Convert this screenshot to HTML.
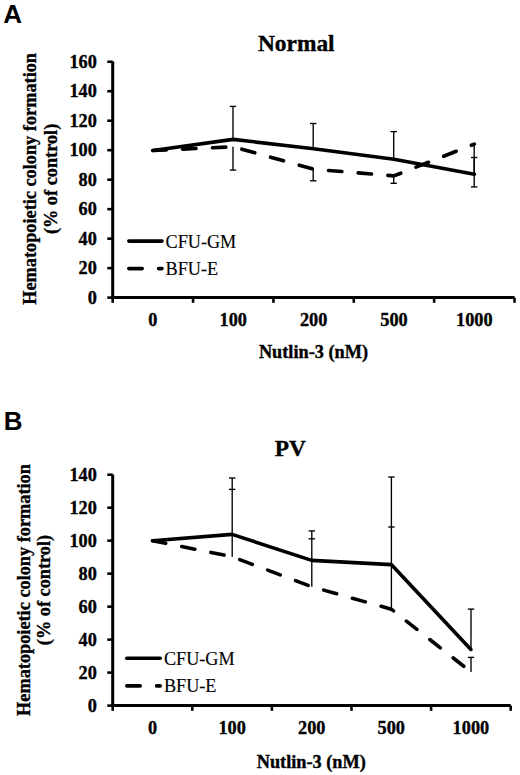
<!DOCTYPE html>
<html><head><meta charset="utf-8"><style>
html,body{margin:0;padding:0;background:#fff;}
svg{display:block;}
.tk{font-family:"Liberation Serif",serif;font-weight:bold;font-size:18.3px;fill:#000;stroke:#000;stroke-width:0.35px;}
.lg{font-family:"Liberation Serif",serif;font-size:18.2px;fill:#000;stroke:#000;stroke-width:0.15px;}
.ti{font-family:"Liberation Serif",serif;font-weight:bold;font-size:23.4px;fill:#000;stroke:#000;stroke-width:0.35px;}
.ax{font-family:"Liberation Serif",serif;font-weight:bold;font-size:18.3px;fill:#000;stroke:#000;stroke-width:0.35px;}
.pl{font-family:"Liberation Sans",sans-serif;font-weight:bold;font-size:26px;fill:#000;}
</style></head><body>
<svg width="520" height="775" viewBox="0 0 520 775">
<rect width="520" height="775" fill="#fff"/>
<path d="M112.70 61.55V297.60H514.50" fill="none" stroke="#000" stroke-width="3" stroke-linejoin="miter"/>
<line x1="107.30" y1="297.60" x2="112.70" y2="297.60" stroke="#000" stroke-width="2.6"/>
<text x="96.90" y="303.70" text-anchor="end" class="tk">0</text>
<line x1="107.30" y1="268.12" x2="112.70" y2="268.12" stroke="#000" stroke-width="2.6"/>
<text x="96.90" y="274.22" text-anchor="end" class="tk">20</text>
<line x1="107.30" y1="238.64" x2="112.70" y2="238.64" stroke="#000" stroke-width="2.6"/>
<text x="96.90" y="244.74" text-anchor="end" class="tk">40</text>
<line x1="107.30" y1="209.16" x2="112.70" y2="209.16" stroke="#000" stroke-width="2.6"/>
<text x="96.90" y="215.26" text-anchor="end" class="tk">60</text>
<line x1="107.30" y1="179.68" x2="112.70" y2="179.68" stroke="#000" stroke-width="2.6"/>
<text x="96.90" y="185.78" text-anchor="end" class="tk">80</text>
<line x1="107.30" y1="150.19" x2="112.70" y2="150.19" stroke="#000" stroke-width="2.6"/>
<text x="96.90" y="156.29" text-anchor="end" class="tk">100</text>
<line x1="107.30" y1="120.71" x2="112.70" y2="120.71" stroke="#000" stroke-width="2.6"/>
<text x="96.90" y="126.81" text-anchor="end" class="tk">120</text>
<line x1="107.30" y1="91.23" x2="112.70" y2="91.23" stroke="#000" stroke-width="2.6"/>
<text x="96.90" y="97.33" text-anchor="end" class="tk">140</text>
<line x1="107.30" y1="61.75" x2="112.70" y2="61.75" stroke="#000" stroke-width="2.6"/>
<text x="96.90" y="67.85" text-anchor="end" class="tk">160</text>
<line x1="112.70" y1="297.60" x2="112.70" y2="302.80" stroke="#000" stroke-width="2.6"/>
<line x1="193.06" y1="297.60" x2="193.06" y2="302.80" stroke="#000" stroke-width="2.6"/>
<line x1="273.42" y1="297.60" x2="273.42" y2="302.80" stroke="#000" stroke-width="2.6"/>
<line x1="353.78" y1="297.60" x2="353.78" y2="302.80" stroke="#000" stroke-width="2.6"/>
<line x1="434.14" y1="297.60" x2="434.14" y2="302.80" stroke="#000" stroke-width="2.6"/>
<line x1="514.50" y1="297.60" x2="514.50" y2="302.80" stroke="#000" stroke-width="2.6"/>
<text x="152.88" y="325.50" text-anchor="middle" class="tk">0</text>
<text x="233.24" y="325.50" text-anchor="middle" class="tk">100</text>
<text x="313.60" y="325.50" text-anchor="middle" class="tk">200</text>
<text x="393.96" y="325.50" text-anchor="middle" class="tk">500</text>
<text x="474.32" y="325.50" text-anchor="middle" class="tk">1000</text>
<line x1="233.00" y1="106.40" x2="233.00" y2="139.40" stroke="#000" stroke-width="1.35"/>
<line x1="229.80" y1="106.40" x2="236.20" y2="106.40" stroke="#000" stroke-width="1.35"/>
<line x1="233.00" y1="146.80" x2="233.00" y2="170.10" stroke="#000" stroke-width="1.35"/>
<line x1="229.80" y1="170.10" x2="236.20" y2="170.10" stroke="#000" stroke-width="1.35"/>
<line x1="313.20" y1="123.50" x2="313.20" y2="148.80" stroke="#000" stroke-width="1.35"/>
<line x1="310.00" y1="123.50" x2="316.40" y2="123.50" stroke="#000" stroke-width="1.35"/>
<line x1="313.20" y1="169.20" x2="313.20" y2="180.80" stroke="#000" stroke-width="1.35"/>
<line x1="310.00" y1="180.80" x2="316.40" y2="180.80" stroke="#000" stroke-width="1.35"/>
<line x1="393.70" y1="131.60" x2="393.70" y2="159.20" stroke="#000" stroke-width="1.35"/>
<line x1="390.50" y1="131.60" x2="396.90" y2="131.60" stroke="#000" stroke-width="1.35"/>
<line x1="393.70" y1="175.90" x2="393.70" y2="183.30" stroke="#000" stroke-width="1.35"/>
<line x1="390.50" y1="183.30" x2="396.90" y2="183.30" stroke="#000" stroke-width="1.35"/>
<line x1="474.20" y1="157.50" x2="474.20" y2="174.30" stroke="#000" stroke-width="1.35"/>
<line x1="471.00" y1="157.50" x2="477.40" y2="157.50" stroke="#000" stroke-width="1.35"/>
<line x1="474.20" y1="144.10" x2="474.20" y2="186.90" stroke="#000" stroke-width="1.35"/>
<line x1="471.00" y1="186.90" x2="477.40" y2="186.90" stroke="#000" stroke-width="1.35"/>
<polyline points="152.88,150.50 233.24,139.40 313.60,148.80 393.96,159.20 474.32,174.30" fill="none" stroke="#000" stroke-width="3.6" stroke-linejoin="round" stroke-linecap="round"/>
<polyline points="152.88,150.50 233.24,146.80 313.60,169.20 393.96,175.90 474.32,144.10" fill="none" stroke="#000" stroke-width="3.6" stroke-linejoin="round" stroke-linecap="round" stroke-dasharray="13.4 16.4"/>
<line x1="128.80" y1="241.10" x2="162.00" y2="241.10" stroke="#000" stroke-width="3.6" stroke-linecap="round"/>
<line x1="128.80" y1="268.60" x2="162.00" y2="268.60" stroke="#000" stroke-width="3.6" stroke-linecap="round" stroke-dasharray="13.4 16.4"/>
<text x="165.50" y="247.90" class="lg">CFU-GM</text>
<text x="165.50" y="274.70" class="lg">BFU-E</text>
<text x="296.30" y="51.20" text-anchor="middle" class="ti">Normal</text>
<text x="313.50" y="357.50" text-anchor="middle" class="ax">Nutlin-3 (nM)</text>
<text transform="translate(35.80,178.90) rotate(-90)" text-anchor="middle" class="ax">Hematopoietic colony formation</text>
<text transform="translate(56.90,178.90) rotate(-90)" text-anchor="middle" class="ax">(% of control)</text>
<text x="3.15" y="22.90" class="pl">A</text>
<path d="M112.70 474.50V705.60H510.70" fill="none" stroke="#000" stroke-width="3" stroke-linejoin="miter"/>
<line x1="107.30" y1="705.60" x2="112.70" y2="705.60" stroke="#000" stroke-width="2.6"/>
<text x="96.90" y="711.70" text-anchor="end" class="tk">0</text>
<line x1="107.30" y1="672.61" x2="112.70" y2="672.61" stroke="#000" stroke-width="2.6"/>
<text x="96.90" y="678.71" text-anchor="end" class="tk">20</text>
<line x1="107.30" y1="639.63" x2="112.70" y2="639.63" stroke="#000" stroke-width="2.6"/>
<text x="96.90" y="645.73" text-anchor="end" class="tk">40</text>
<line x1="107.30" y1="606.64" x2="112.70" y2="606.64" stroke="#000" stroke-width="2.6"/>
<text x="96.90" y="612.74" text-anchor="end" class="tk">60</text>
<line x1="107.30" y1="573.66" x2="112.70" y2="573.66" stroke="#000" stroke-width="2.6"/>
<text x="96.90" y="579.76" text-anchor="end" class="tk">80</text>
<line x1="107.30" y1="540.67" x2="112.70" y2="540.67" stroke="#000" stroke-width="2.6"/>
<text x="96.90" y="546.77" text-anchor="end" class="tk">100</text>
<line x1="107.30" y1="507.69" x2="112.70" y2="507.69" stroke="#000" stroke-width="2.6"/>
<text x="96.90" y="513.79" text-anchor="end" class="tk">120</text>
<line x1="107.30" y1="474.70" x2="112.70" y2="474.70" stroke="#000" stroke-width="2.6"/>
<text x="96.90" y="480.80" text-anchor="end" class="tk">140</text>
<line x1="112.70" y1="705.60" x2="112.70" y2="710.80" stroke="#000" stroke-width="2.6"/>
<line x1="192.30" y1="705.60" x2="192.30" y2="710.80" stroke="#000" stroke-width="2.6"/>
<line x1="271.90" y1="705.60" x2="271.90" y2="710.80" stroke="#000" stroke-width="2.6"/>
<line x1="351.50" y1="705.60" x2="351.50" y2="710.80" stroke="#000" stroke-width="2.6"/>
<line x1="431.10" y1="705.60" x2="431.10" y2="710.80" stroke="#000" stroke-width="2.6"/>
<line x1="510.70" y1="705.60" x2="510.70" y2="710.80" stroke="#000" stroke-width="2.6"/>
<text x="152.50" y="733.60" text-anchor="middle" class="tk">0</text>
<text x="232.10" y="733.60" text-anchor="middle" class="tk">100</text>
<text x="311.70" y="733.60" text-anchor="middle" class="tk">200</text>
<text x="391.30" y="733.60" text-anchor="middle" class="tk">500</text>
<text x="470.90" y="733.60" text-anchor="middle" class="tk">1000</text>
<line x1="232.20" y1="478.00" x2="232.20" y2="556.70" stroke="#000" stroke-width="1.35"/>
<line x1="229.00" y1="478.00" x2="235.40" y2="478.00" stroke="#000" stroke-width="1.35"/>
<line x1="229.00" y1="489.40" x2="235.40" y2="489.40" stroke="#000" stroke-width="1.35"/>
<line x1="311.80" y1="530.90" x2="311.80" y2="586.70" stroke="#000" stroke-width="1.35"/>
<line x1="308.60" y1="530.90" x2="315.00" y2="530.90" stroke="#000" stroke-width="1.35"/>
<line x1="308.60" y1="538.80" x2="315.00" y2="538.80" stroke="#000" stroke-width="1.35"/>
<line x1="391.40" y1="477.00" x2="391.40" y2="609.20" stroke="#000" stroke-width="1.35"/>
<line x1="388.20" y1="477.00" x2="394.60" y2="477.00" stroke="#000" stroke-width="1.35"/>
<line x1="388.20" y1="527.00" x2="394.60" y2="527.00" stroke="#000" stroke-width="1.35"/>
<line x1="471.00" y1="609.10" x2="471.00" y2="649.40" stroke="#000" stroke-width="1.35"/>
<line x1="467.80" y1="609.10" x2="474.20" y2="609.10" stroke="#000" stroke-width="1.35"/>
<line x1="471.00" y1="657.40" x2="471.00" y2="671.90" stroke="#000" stroke-width="1.35"/>
<line x1="467.80" y1="657.40" x2="474.20" y2="657.40" stroke="#000" stroke-width="1.35"/>
<polyline points="152.50,540.70 232.10,534.40 311.70,560.40 391.30,564.60 470.90,649.40" fill="none" stroke="#000" stroke-width="3.6" stroke-linejoin="round" stroke-linecap="round"/>
<polyline points="152.50,540.70 232.10,556.70 311.70,586.70 391.30,609.20 470.90,671.90" fill="none" stroke="#000" stroke-width="3.6" stroke-linejoin="round" stroke-linecap="round" stroke-dasharray="13.4 16.4"/>
<line x1="126.80" y1="658.30" x2="160.20" y2="658.30" stroke="#000" stroke-width="3.6" stroke-linecap="round"/>
<line x1="126.80" y1="685.90" x2="160.20" y2="685.90" stroke="#000" stroke-width="3.6" stroke-linecap="round" stroke-dasharray="13.4 16.4"/>
<text x="163.90" y="664.50" class="lg">CFU-GM</text>
<text x="163.90" y="692.30" class="lg">BFU-E</text>
<text x="290.40" y="456.20" text-anchor="middle" class="ti">PV</text>
<text x="311.30" y="767.50" text-anchor="middle" class="ax">Nutlin-3 (nM)</text>
<text transform="translate(29.80,590.00) rotate(-90)" text-anchor="middle" class="ax">Hematopoietic colony formation</text>
<text transform="translate(50.20,590.00) rotate(-90)" text-anchor="middle" class="ax">(% of control)</text>
<text x="3.66" y="429.60" class="pl">B</text>
</svg>
</body></html>
